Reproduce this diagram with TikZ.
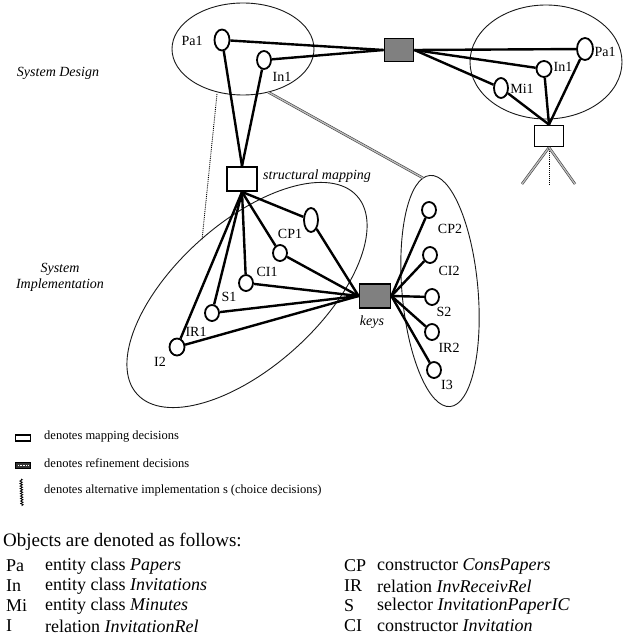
\documentclass[tikz,border=0pt]{standalone}
\usepackage{fontspec}
\setmainfont{Liberation Serif}
\usetikzlibrary{shapes.geometric,decorations.pathmorphing}

\begin{document}
\begin{tikzpicture}[x=1pt, y=-1pt,
  obj/.style={ellipse, draw, line width=1.8pt, fill=white, inner sep=0pt,
              minimum width=14pt, minimum height=16pt},
  mapbox/.style={rectangle, draw, line width=1.8pt, fill=white, inner sep=0pt,
                 minimum width=30pt, minimum height=24pt},
  refbox/.style={rectangle, draw, line width=1.8pt, fill=black!50, inner sep=0pt,
                 minimum width=30pt, minimum height=23pt},
  grp/.style={ellipse, draw=black!90, line width=0.9pt, inner sep=0pt},
  link/.style={line width=2.4pt},
  dotlink/.style={line width=0.9pt, densely dotted},
  hatchlink/.style={draw=black!75, line width=0.6pt, double=black!25,
                    double distance=1.3pt},
  lbl/.style={font=\fontsize{14}{14}\selectfont, inner sep=0pt},
  itl/.style={font=\fontsize{14}{16}\selectfont\itshape, inner sep=0pt, align=center},
  legsmall/.style={font=\fontsize{12.5}{14}\selectfont, inner sep=0pt, anchor=west},
  legbig/.style={font=\fontsize{18}{20}\selectfont, inner sep=0pt, anchor=west},
]
\useasboundingbox (0,0) rectangle (624,639);

% ---------- groups of objects ----------
\node[grp, minimum width=142pt, minimum height=92pt] (grpTL) at (243,49) {};
\node[grp, minimum width=152pt, minimum height=114pt] (grpTR) at (546,62) {};
\node[grp, minimum width=296pt, minimum height=144pt, rotate=42] (grpLL) at (247,295) {};
\node[grp, minimum width=76pt, minimum height=232pt, rotate=5] (grpLR) at (440,291) {};

% ---------- decision nodes ----------
\node[refbox, minimum width=29pt] (refT) at (399,50) {};
\node[mapbox] (mapL) at (242,179) {};
\node[mapbox, minimum width=29pt, minimum height=21pt] (mapR) at (549,136) {};
\node[refbox, minimum width=31pt, minimum height=24pt] (keys) at (375,296) {};

% ---------- objects: system design ----------
\node[obj, minimum width=15pt, minimum height=21pt] (pa1L) at (222,40) {};
\node[obj, minimum height=18pt] (in1L) at (264,60) {};
\node[obj, minimum width=16pt, minimum height=22pt] (pa1R) at (585,49) {};
\node[obj, minimum width=15pt, minimum height=16pt] (in1R) at (544,69) {};
\node[obj, minimum height=20pt] (mi1) at (501,88) {};

% ---------- objects: system implementation ----------
\node[obj, minimum width=14pt, minimum height=24pt] (cp1) at (311,220) {};
\node[obj] (ci1) at (280,253) {};
\node[obj] (s1) at (246,283) {};
\node[obj] (ir1) at (212,313) {};
\node[obj, minimum width=15pt, minimum height=17pt] (i2) at (177,347) {};
\node[obj] (cp2) at (429,210) {};
\node[obj] (ci2) at (430,255) {};
\node[obj] (s2) at (432,297) {};
\node[obj] (ir2) at (432,332) {};
\node[obj] (i3) at (434,370) {};

% ---------- connectors ----------
\draw[link] (refT.west) -- (pa1L);
\draw[link] (refT.west) -- (in1L);
\draw[link] (refT.east) -- (pa1R);
\draw[link] (refT.east) -- (in1R);
\draw[link] (refT.east) -- (mi1);
\draw[link] (mapL.north) -- (pa1L);
\draw[link] (mapL.north) -- (in1L);
\draw[link] (mapR.north) -- (mi1);
\draw[link] (mapR.north) -- (in1R);
\draw[link] (mapR.north) -- (pa1R);
\foreach \n in {cp1,ci1,s1,ir1,i2} {
  \draw[link] (mapL.south) -- (\n);
  \draw[link] (keys.west) -- (\n);
}
\foreach \n in {cp2,ci2,s2,ir2,i3} {
  \draw[link] (keys.east) -- (\n);
}

% ---------- refinement / mapping relations between groups ----------
\coordinate (tlA) at (217,94);
\coordinate (llA) at (202,240);
\coordinate (tlB) at (268,92);
\coordinate (lrA) at (423,178);
\draw[dotlink] (tlA) -- (llA);
\draw[hatchlink] (tlB) -- (lrA);

% ---------- alternative implementations ----------
\coordinate (chL) at (522,184);
\coordinate (chM) at (549,184);
\coordinate (chR) at (575,184);
\draw[hatchlink] (mapR.south) -- (chL);
\draw[dotlink] (mapR.south) -- (chM);
\draw[hatchlink] (mapR.south) -- (chR);

% ---------- labels ----------
\node[lbl] (tPa1L) at (192,41) {Pa1};
\node[lbl] (tIn1L) at (282,77) {In1};
\node[lbl] (tPa1R) at (605,52) {Pa1};
\node[lbl] (tIn1R) at (563,67) {In1};
\node[lbl] (tMi1) at (522,89) {Mi1};
\node[lbl] (tCP1) at (290,234) {CP1};
\node[lbl] (tCI1) at (267,272) {CI1};
\node[lbl] (tS1) at (229,297) {S1};
\node[lbl] (tIR1) at (196,332) {IR1};
\node[lbl] (tI2) at (160,362) {I2};
\node[lbl] (tCP2) at (450,229) {CP2};
\node[lbl] (tCI2) at (449,271) {CI2};
\node[lbl] (tS2) at (444,312) {S2};
\node[lbl] (tIR2) at (449,348) {IR2};
\node[lbl] (tI3) at (447,385) {I3};

\node[itl, anchor=west] (tMap) at (263,176) {structural mapping};
\node[itl] (tKeys) at (372,322) {keys};
\node[itl] (tDesign) at (58,73) {System Design};
\node[itl] (tImpl) at (60,277) {System\\Implementation};

% ---------- legend ----------
\node[draw, line width=1.5pt, minimum width=15pt, minimum height=6pt, inner sep=0pt] (kMap) at (23,438) {};
\node[legsmall] (lMap) at (44,437) {denotes mapping decisions};
\node[draw, line width=1pt, fill=black!80, minimum width=15pt, minimum height=6pt, inner sep=0pt] (kRef) at (23,465) {};
\draw[white, line width=0.8pt, dash pattern=on 0.8pt off 0.8pt] ([xshift=3pt]kRef.west) -- ([xshift=-3pt]kRef.east);
\node[legsmall] (lRef) at (44,463) {denotes refinement decisions};
\coordinate (kAltTop) at (21,479);
\coordinate (kAltBot) at (22,506);
\draw[line width=0.8pt, decorate, decoration={snake, segment length=2.5pt, amplitude=1.2pt}] (kAltTop) -- (kAltBot);
\node[legsmall] (lAlt) at (44,490) {denotes alternative implementation s (choice decisions)};

\node[font=\fontsize{19}{20}\selectfont, inner sep=0pt, anchor=west] (lObj) at (3,542) {Objects are denoted as follows:};

\node[legbig] (aPa) at (6,566) {Pa};
\node[legbig] (dPa) at (45,566) {entity class \textit{Papers}};
\node[legbig] (aIn) at (6,586) {In};
\node[legbig] (dIn) at (45,586) {entity class \textit{Invitations}};
\node[legbig] (aMi) at (6,606) {Mi};
\node[legbig] (dMi) at (45,606) {entity class \textit{Minutes}};
\node[legbig] (aI) at (6,626) {I};
\node[legbig] (dI) at (45,626) {relation \textit{InvitationRel}};

\node[legbig] (aCP) at (344,566) {CP};
\node[legbig] (dCP) at (377,566) {constructor \textit{ConsPapers}};
\node[legbig] (aIR) at (344,586) {IR};
\node[legbig] (dIR) at (377,586) {relation \textit{InvReceivRel}};
\node[legbig] (aS) at (344,606) {S};
\node[legbig] (dS) at (377,606) {selector \textit{InvitationPaperIC}};
\node[legbig] (aCI) at (344,626) {CI};
\node[legbig] (dCI) at (377,626) {constructor \textit{Invitation}};
\end{tikzpicture}
\end{document}
